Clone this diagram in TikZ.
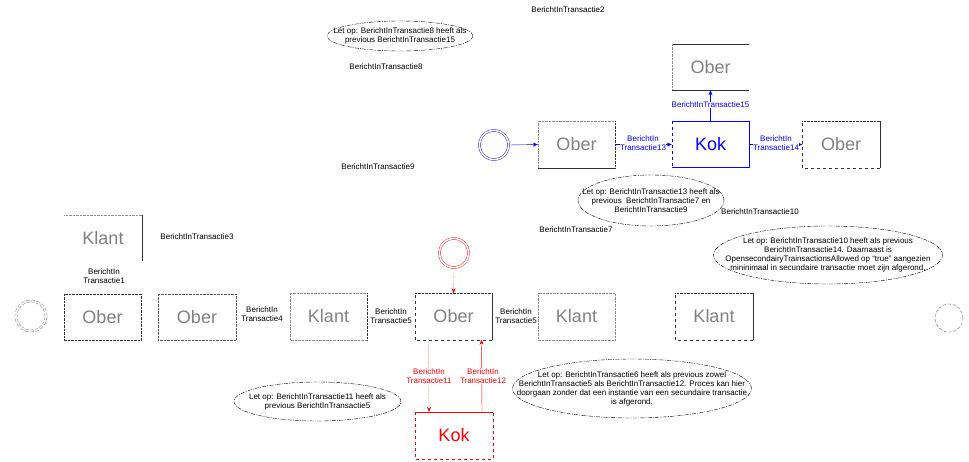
\documentclass[tikz,border=0pt]{standalone}
\usepackage{fontspec}
\setmainfont{Liberation Sans}
\usetikzlibrary{shapes.geometric,arrows.meta}
\begin{document}
\begin{tikzpicture}[x=1pt,y=-1pt,
  lbl/.style={font=\fontsize{8}{9}\selectfont, align=center, inner sep=0.5pt},
  ntext/.style={font=\fontsize{8}{9}\selectfont, align=center, inner sep=0pt},
  notedash/.style={draw=black, dash pattern=on 4pt off 1.2pt on 1pt off 1.2pt},
  box/.style={minimum width=77pt, minimum height=46pt, inner sep=0pt, font=\fontsize{18}{20}\selectfont},
  arr/.style={-{Stealth[length=5pt,width=4pt]}},
  gdot/.style={draw=black!45, densely dotted},
  ddot/.style={draw=black!80, densely dotted},
  ddash/.style={draw=black!80, dashed},
  dsolid/.style={draw=black!80},
  startc/.style={circle, double, double distance=1.6pt, minimum size=29pt, inner sep=0pt},
]
\useasboundingbox (0,0) rectangle (969,461);

% ---------- free labels ----------
\node[lbl] (t2) at (568,10) {BerichtInTransactie2};
\node[lbl] (t8) at (386,67) {BerichtInTransactie8};
\node[lbl] (t9) at (378,167) {BerichtInTransactie9};
\node[lbl] (t10) at (760,212) {BerichtInTransactie10};
\node[lbl] (t7) at (576,230) {BerichtInTransactie7};
\node[lbl] (t3) at (197,237) {BerichtInTransactie3};
\node[lbl] (t1) at (104,276) {BerichtIn\\Transactie1};
\node[lbl] (t4) at (262,314.5) {BerichtIn\\Transactie4};
\node[lbl] (t5a) at (391,316.5) {BerichtIn\\Transactie5};
\node[lbl] (t5b) at (516,316.5) {BerichtIn\\Transactie5};

% ---------- notes ----------
\node[ntext] (n1) at (400,36) {Let op: BerichtInTransactie8 heeft als\\previous BerichtInTransactie15};
\draw[notedash] (n1.center) ellipse [x radius=73pt, y radius=15pt];
\node[ntext] (n2) at (651,200.5) {Let op: BerichtInTransactie13 heeft als\\previous \ BerichtInTransactie7 en\\BerichtInTransactie9};
\draw[notedash] (n2.center) ellipse [x radius=73pt, y radius=25.5pt];
\node[ntext] (n3) at (828,255) {Let op: BerichtInTransactie10 heeft als previous\\BerichtInTransactie14. Daarnaast is\\OpensecondairyTrainsactionsAllowed op “true” aangezien\\mininimaal in secundaire transactie moet zijn afgerond.};
\draw[notedash] (n3.center) ellipse [x radius=114.5pt, y radius=29pt];
\node[ntext] (n4) at (317.5,401.5) {Let op: BerichtInTransactie11 heeft als\\previous BerichtInTransactie5};
\draw[notedash] (n4.center) ellipse [x radius=83.5pt, y radius=19.5pt];
\node[ntext] (n5) at (632,388.5) {Let op: BerichtInTransactie6 heeft als previous zowel\\BerichtInTransactie5 als BerichtInTransactie12. Proces kan hier\\doorgaan zonder dat een instantie van een secundaire transactie\\is afgerond.};
\draw[notedash] (n5.center) ellipse [x radius=119.5pt, y radius=29.5pt];

% ---------- upper (blue) part ----------
\node[box, text=black!50] (oTop) at (710.5,67) {Ober};
\draw[dsolid] (oTop.north east) -- (oTop.north west);
\draw[gdot] (oTop.north west) -- (oTop.south west);
\draw[dsolid] (oTop.south west) -- (oTop.south east);

\node[box, text=black!50] (oB1) at (576.5,144.5) {Ober};
\draw[gdot] (oB1.south west) -- (oB1.north west) -- (oB1.north east);
\draw[ddot] (oB1.north east) -- (oB1.south east);
\draw[dsolid] (oB1.south east) -- (oB1.south west);

\node[box, text=blue] (kokB) at (710.5,144.5) {Kok};
\draw[blue, semithick] (kokB.south west) -- (kokB.south east) -- (kokB.north east) -- (kokB.north west);
\draw[blue, semithick, dashed] (kokB.north west) -- (kokB.south west);

\node[box, text=black!50] (oB2) at (841,144.5) {Ober};
\draw[ddash] (oB2.south west) -- (oB2.north west);
\draw[ddot] (oB2.north west) -- (oB2.north east);
\draw[dsolid] (oB2.north east) -- (oB2.south east);
\draw[ddash] (oB2.south east) -- (oB2.south west);

\node[startc, draw=blue] (bs) at (494,145) {};
\draw[blue, arr] (bs.east) -- (oB1.west);
\draw[blue, arr] (oB1.east) -- (kokB.west);
\draw[blue, arr] (kokB.north) -- (oTop.south);
\draw[blue, arr] (kokB.east) -- (oB2.west);
\node[lbl, text=blue, fill=white] (l13) at (643,143.5) {BerichtIn\\Transactie13};
\node[lbl, text=blue, fill=white] (l15) at (710.5,105) {BerichtInTransactie15};
\node[lbl, text=blue, fill=white] (l14) at (776,143.5) {BerichtIn\\Transactie14};

% ---------- lower part ----------
\node[box, text=black!50] (klT) at (103,238) {Klant};
\draw[gdot] (klT.north west) -- (klT.north east);
\draw[dsolid] (klT.north east) -- (klT.south east);

\node[circle, draw=black!60, densely dashed, double, double distance=1.6pt, minimum size=30pt, inner sep=0pt] (ls) at (31,316) {};

\node[box, text=black!50] (oL1) at (102.5,317) {Ober};
\draw[ddot] (oL1.north west) rectangle (oL1.south east);

\node[box, text=black!50] (oL2) at (197,317) {Ober};
\draw[draw=black!65, densely dotted] (oL2.north west) rectangle (oL2.south east);

\node[box, text=black!50] (kl1) at (328.5,316.5) {Klant};
\draw[gdot] (kl1.north east) -- (kl1.north west) -- (kl1.south west) -- (kl1.south east);
\draw[ddot] (kl1.north east) -- (kl1.south east);

\node[box, text=black!50] (oC) at (453.5,316.5) {Ober};
\draw[ddash] (oC.south west) -- (oC.north west);
\draw[ddot] (oC.north west) -- (oC.north east);
\draw[dsolid] (oC.north east) -- (oC.south east);
\draw[ddash] (oC.south east) -- (oC.south west);

\node[box, text=black!50] (kl2) at (576.5,316.5) {Klant};
\draw[gdot] (kl2.north west) rectangle (kl2.south east);

\node[box, text=black!50] (kl3) at (714,316.5) {Klant};
\draw[ddash] (kl3.south west) -- (kl3.north west);
\draw[ddot] (kl3.north west) -- (kl3.north east);
\draw[dsolid] (kl3.north east) -- (kl3.south east);
\draw[ddash] (kl3.south east) -- (kl3.south west);

\node[circle, draw=black!60, densely dashed, minimum size=28pt, inner sep=0pt] (es) at (949,318) {};

% red part
\node[startc, draw=red] (rs) at (454,253) {};
\draw[red, densely dotted, arr] (rs.south) -- (oC.north);

\node[box, text=red, minimum height=47pt] (kokR) at (454,435.5) {Kok};
\draw[red, dashed] (kokR.north west) -- (kokR.south west) -- (kokR.south east) -- (kokR.north east);
\draw[red] (kokR.north west) -- (kokR.north east);

\draw[red, densely dotted, arr] ([xshift=-25pt]oC.south) -- ([xshift=-25pt]kokR.north);
\draw[red, arr] ([xshift=28pt]kokR.north) -- ([xshift=28pt]oC.south);
\node[lbl, text=red, fill=white] (l11) at (429,376) {BerichtIn\\Transactie11};
\node[lbl, text=red, fill=white] (l12) at (483,376) {BerichtIn\\Transactie12};
\end{tikzpicture}
\end{document}
